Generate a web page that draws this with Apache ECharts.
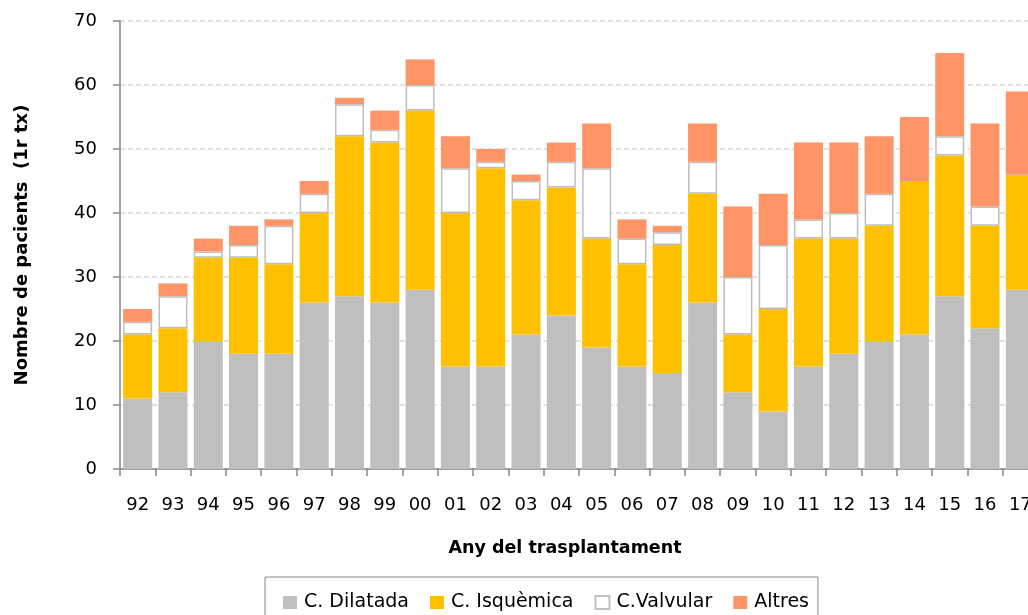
<!DOCTYPE html>
<html>
<head>
<meta charset="utf-8">
<script src="https://cdn.jsdelivr.net/npm/echarts@6/dist/echarts.min.js"></script>
<style>
  html, body { margin: 0; padding: 0; background: #fff; }
  #chart { width: 1028px; height: 615px; }
</style>
</head>
<body>
<div id="chart"></div>
<script>
// anys del trasplantament
const years = ['92', '93', '94', '95', '96', '97', '98', '99', '00', '01', '02', '03', '04',
  '05', '06', '07', '08', '09', '10', '11', '12', '13', '14', '15', '16', '17'];

const dilatada = [11, 12, 20, 18, 18, 26, 27, 26, 28, 16, 16, 21, 24, 19, 16, 15, 26, 12, 9, 16, 18, 20, 21, 27, 22, 28];
const isquemica = [10, 10, 13, 15, 14, 14, 25, 25, 28, 24, 31, 21, 20, 17, 16, 20, 17, 9, 16, 20, 18, 18, 24, 22, 16, 18];
const valvular = [2, 5, 1, 2, 6, 3, 5, 2, 4, 7, 1, 3, 4, 11, 4, 2, 5, 9, 10, 3, 4, 5, 0, 3, 3, 0];
const altres = [2, 2, 2, 3, 1, 2, 1, 3, 4, 5, 2, 1, 3, 7, 3, 1, 6, 11, 8, 12, 11, 9, 10, 13, 13, 13];

const yTicks = { min: 0, max: 70, interval: 10 };

const font = 'DejaVu Sans';
const axisGray = '#868686';

const chart = echarts.init(document.getElementById('chart'));

const barSeries = (name, data, color, border) => ({
  name: name,
  type: 'bar',
  stack: 'total',
  data: data,
  barWidth: 29,
  itemStyle: border
    ? { color: color, borderColor: '#bfbfbf', borderWidth: 1.5 }
    : { color: color },
  emphasis: { disabled: true }
});

chart.setOption({
  backgroundColor: '#ffffff',
  animation: false,
  textStyle: { fontFamily: font },
  grid: {
    left: 120,
    right: -10,
    top: 21,
    bottom: 146,
    outerBoundsMode: 'none'
  },
  legend: {
    left: 265,
    top: 577,
    padding: [16, 9, 12, 18],
    borderColor: axisGray,
    borderWidth: 1,
    icon: 'rect',
    itemWidth: 14,
    itemHeight: 13,
    itemGap: 21,
    textStyle: { fontFamily: font, fontSize: 19, color: '#000', padding: [0, 0, 0, 2] },
    data: ['C. Dilatada', 'C. Isquèmica', 'C.Valvular', 'Altres']
  },
  xAxis: {
    type: 'category',
    data: years,
    name: 'Any del trasplantament',
    nameLocation: 'middle',
    nameGap: 70,
    nameTextStyle: {
      fontFamily: font,
      fontSize: 17.5,
      fontWeight: 'bold',
      color: '#000',
      padding: [0, 28, 0, 0]
    },
    axisLine: { lineStyle: { color: axisGray, width: 1.5 } },
    axisTick: { show: true, length: 7, lineStyle: { color: axisGray, width: 1.5 } },
    axisLabel: { fontFamily: font, fontSize: 18, color: '#000', margin: 27 }
  },
  yAxis: {
    type: 'value',
    min: yTicks.min,
    max: yTicks.max,
    interval: yTicks.interval,
    name: 'Nombre de pacients  (1r tx)',
    nameLocation: 'middle',
    nameGap: 89,
    nameTextStyle: {
      fontFamily: font,
      fontSize: 18,
      fontWeight: 'bold',
      color: '#000'
    },
    axisLine: { show: true, lineStyle: { color: axisGray, width: 1.5 } },
    axisTick: { show: true, length: 7, lineStyle: { color: axisGray, width: 1.5 } },
    axisLabel: { fontFamily: font, fontSize: 18, color: '#000', margin: 23 },
    splitLine: { lineStyle: { color: '#d9d9d9', type: [5, 3], width: 1.5 } }
  },
  series: [
    barSeries('C. Dilatada', dilatada, '#bfbfbf', false),
    barSeries('C. Isquèmica', isquemica, '#ffc000', false),
    barSeries('C.Valvular', valvular, '#ffffff', true),
    barSeries('Altres', altres, '#ff9466', false)
  ]
});
</script>
</body>
</html>
